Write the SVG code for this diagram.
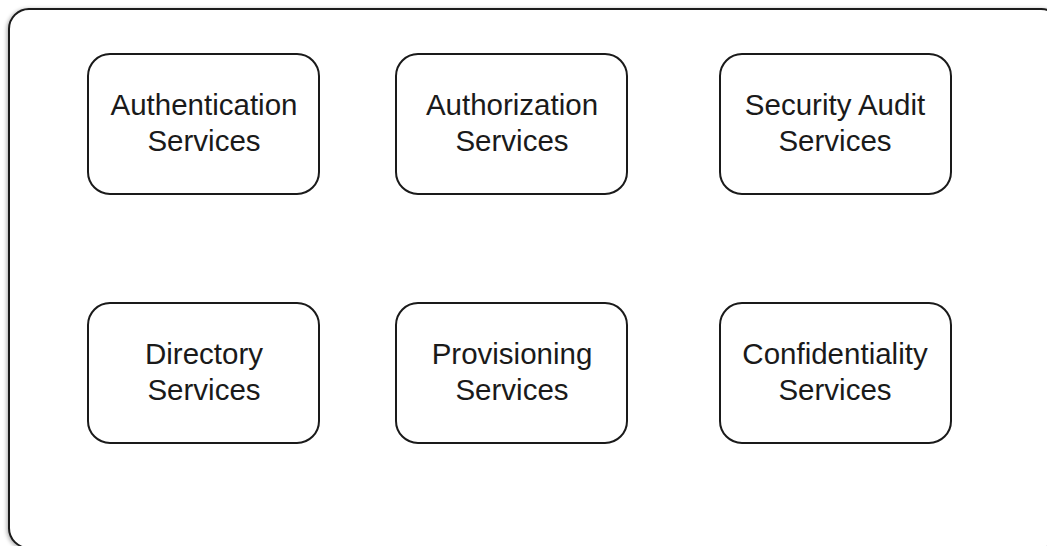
<svg xmlns="http://www.w3.org/2000/svg" width="1047" height="546" viewBox="0 0 1047 546">
<style>
.box{fill:#ffffff;stroke:#1a1a1a;stroke-width:2}
.lbl{font-family:"Liberation Sans",Arial,sans-serif;font-size:29.5px;fill:#1a1a1a;text-anchor:middle}
</style>
<defs>
<filter id="sh" x="-5%" y="-5%" width="110%" height="110%">
<feGaussianBlur in="SourceAlpha" stdDeviation="2"/>
<feOffset dx="-1" dy="1" result="b"/>
<feComponentTransfer><feFuncA type="linear" slope="0.35"/></feComponentTransfer>
<feMerge><feMergeNode/><feMergeNode in="SourceGraphic"/></feMerge>
</filter>
</defs>
<rect width="1047" height="546" fill="#ffffff"/>
<g id="container">
<rect x="9" y="9" width="1052" height="539" rx="20" ry="20" fill="#ffffff" stroke="#1a1a1a" stroke-width="2" filter="url(#sh)"/>
</g>
<g id="connectors"></g>
<g id="authentication">
<rect class="box" x="88" y="54" width="231" height="140" rx="22" ry="22"/>
<text class="lbl" x="204" y="115">Authentication</text>
<text class="lbl" x="204" y="151">Services</text>
</g>
<g id="authorization">
<rect class="box" x="396" y="54" width="231" height="140" rx="22" ry="22"/>
<text class="lbl" x="512" y="115">Authorization</text>
<text class="lbl" x="512" y="151">Services</text>
</g>
<g id="security-audit">
<rect class="box" x="720" y="54" width="231" height="140" rx="22" ry="22"/>
<text class="lbl" x="835" y="115">Security Audit</text>
<text class="lbl" x="835" y="151">Services</text>
</g>
<g id="directory">
<rect class="box" x="88" y="303" width="231" height="140" rx="22" ry="22"/>
<text class="lbl" x="204" y="364">Directory</text>
<text class="lbl" x="204" y="400">Services</text>
</g>
<g id="provisioning">
<rect class="box" x="396" y="303" width="231" height="140" rx="22" ry="22"/>
<text class="lbl" x="512" y="364">Provisioning</text>
<text class="lbl" x="512" y="400">Services</text>
</g>
<g id="confidentiality">
<rect class="box" x="720" y="303" width="231" height="140" rx="22" ry="22"/>
<text class="lbl" x="835" y="364">Confidentiality</text>
<text class="lbl" x="835" y="400">Services</text>
</g>
</svg>
